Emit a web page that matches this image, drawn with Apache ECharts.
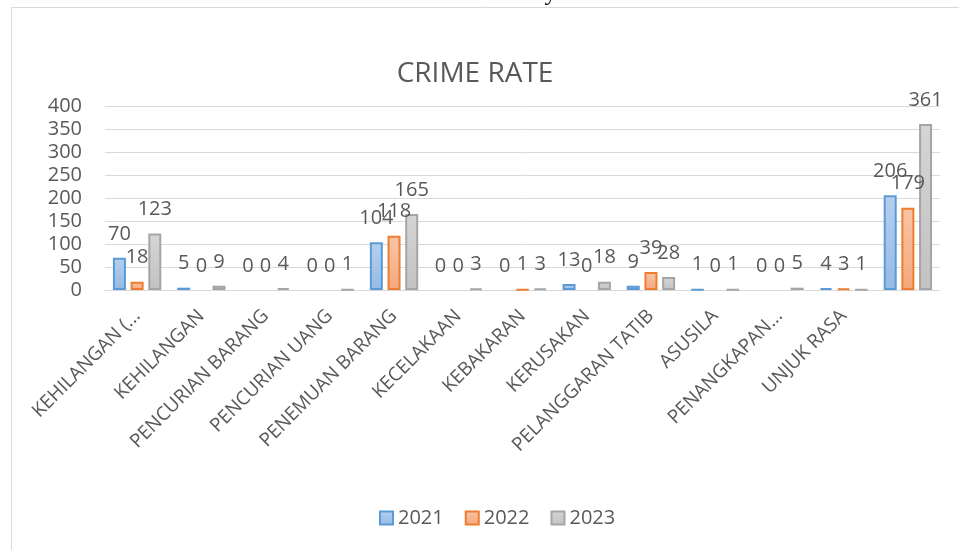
<!DOCTYPE html>
<html>
<head>
<meta charset="utf-8">
<script src="https://cdn.jsdelivr.net/npm/echarts@6/dist/echarts.min.js"></script>
<style>
html,body{margin:0;padding:0;background:#fff;}
#chart{width:959px;height:550px;}
</style>
</head>
<body>
<div id="chart"></div>
<script>
var categories = ['KEHILANGAN (...', 'KEHILANGAN', 'PENCURIAN BARANG', 'PENCURIAN UANG', 'PENEMUAN BARANG', 'KECELAKAAN', 'KEBAKARAN', 'KERUSAKAN', 'PELANGGARAN TATIB', 'ASUSILA', 'PENANGKAPAN...', 'UNJUK RASA', ''];
var seriesNames = ['2021', '2022', '2023'];
var values2021 = [70, 5, 0, 0, 104, 0, 0, 13, 9, 1, 0, 4, 206];
var values2022 = [18, 0, 0, 0, 118, 0, 1, 0, 39, 0, 0, 3, 179];
var values2023 = [123, 9, 4, 1, 165, 3, 3, 18, 28, 1, 5, 1, 361];
var yTicks = [0, 50, 100, 150, 200, 250, 300, 350, 400];

var FONT = '"Open Sans", "Noto Sans", sans-serif';
var TXT = '#595959';

function grad(top, bottom) {
  return new echarts.graphic.LinearGradient(0, 0, 0, 1, [
    {offset: 0, color: top}, {offset: 1, color: bottom}
  ]);
}
var styles = [
  {fill: grad('#b6cfee', '#96bae4'), border: '#5b9bd5'},
  {fill: grad('#f8c5a7', '#f4a87c'), border: '#ed7d31'},
  {fill: grad('#d5d5d5', '#c2c2c2'), border: '#a5a5a5'}
];
var allValues = [values2021, values2022, values2023];

function buildData(arr) {
  return arr.map(function (v) {
    return v === 0 ? {value: v, itemStyle: {borderWidth: 0}} : v;
  });
}

var series = seriesNames.map(function (name, i) {
  return {
    name: name,
    type: 'bar',
    data: buildData(allValues[i]),
    barWidth: 13,
    barGap: '36%',
    itemStyle: {color: styles[i].fill, borderColor: styles[i].border, borderWidth: 2},
    label: {
      show: true,
      position: 'top',
      distance: 14,
      color: TXT,
      fontFamily: FONT,
      fontSize: 20
    },
    emphasis: {disabled: true}
  };
});

var chart = echarts.init(document.getElementById('chart'), null, {renderer: 'canvas'});
chart.setOption({
  animation: false,
  backgroundColor: '#ffffff',
  textStyle: {fontFamily: FONT},
  graphic: [
    {
      type: 'rect',
      shape: {x: 11.5, y: 7.5, width: 1000, height: 600},
      style: {fill: 'none', stroke: '#d9d9d9', lineWidth: 1},
      silent: true
    },
    {
      type: 'text',
      x: 500,
      y: 6,
      style: {
        text: 'Data Crime Rate Security Sub-Division',
        fill: '#000',
        font: '24px "Liberation Serif", serif',
        textAlign: 'center',
        textVerticalAlign: 'bottom'
      },
      silent: true
    }
  ],
  title: {
    text: 'CRIME RATE',
    left: 470,
    textAlign: 'center',
    top: 55,
    textStyle: {color: TXT, fontFamily: FONT, fontSize: 28, fontWeight: 'normal'}
  },
  legend: {
    data: seriesNames,
    left: 374,
    top: 503,
    icon: 'rect',
    itemWidth: 13,
    itemHeight: 13,
    itemGap: 21,
    textStyle: {color: TXT, fontFamily: FONT, fontSize: 20}
  },
  grid: {left: 105, right: 19, top: 106, bottom: 260, containLabel: false},
  xAxis: {
    type: 'category',
    data: categories,
    axisLine: {lineStyle: {color: '#d9d9d9', width: 1}},
    axisTick: {show: false},
    axisLabel: {
      interval: 0,
      rotate: 45,
      margin: 23,
      color: TXT,
      fontFamily: FONT,
      fontSize: 19
    }
  },
  yAxis: {
    type: 'value',
    min: yTicks[0],
    max: yTicks[yTicks.length - 1],
    interval: yTicks[1] - yTicks[0],
    axisLine: {show: false},
    axisTick: {show: false},
    splitLine: {lineStyle: {color: '#d9d9d9', width: 1}},
    axisLabel: {color: TXT, fontFamily: FONT, fontSize: 20, margin: 23}
  },
  series: series
});
</script>
</body>
</html>
